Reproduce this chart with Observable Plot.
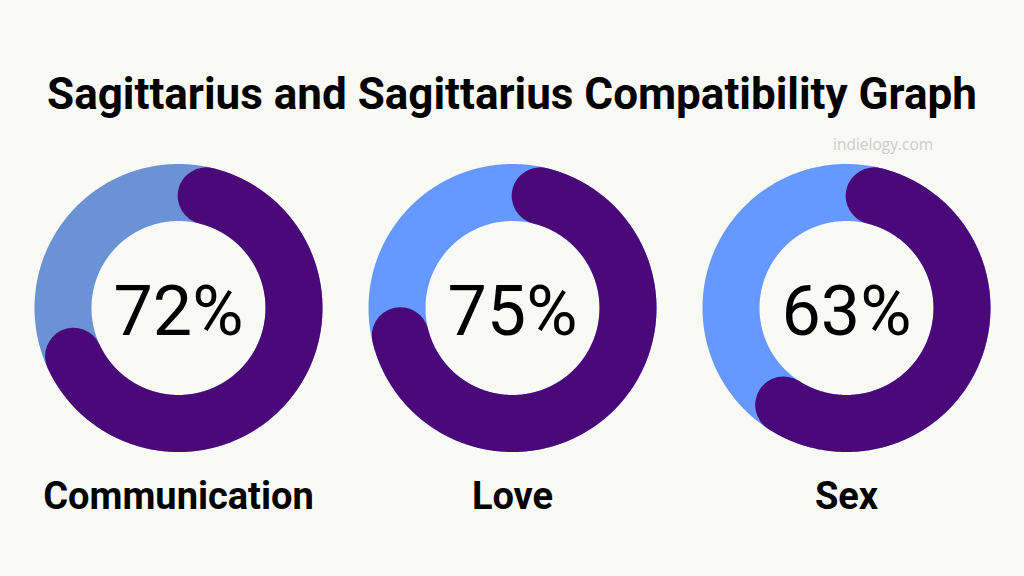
<!DOCTYPE html>
<html>
<head>
<meta charset="utf-8">
<script src="https://cdn.jsdelivr.net/npm/d3@7"></script>
<script src="https://cdn.jsdelivr.net/npm/@observablehq/plot@0.6"></script>
<style>
  html, body { margin: 0; padding: 0; background: #f9f9f5; }
  #wrap { position: relative; width: 1024px; height: 576px; overflow: hidden; background: #f9f9f5; }
  #head { position: relative; width: 1024px; height: 130px; }
  #title { position: absolute; left: 0; width: 1024px; top: 69px; text-align: center;
           font-family: Roboto, "Liberation Sans", sans-serif; font-weight: 700; font-size: 44px;
           line-height: 50px; color: #000; white-space: nowrap; }
  #source { position: absolute; left: 833px; top: 133px; font-family: "Open Sans", Roboto, sans-serif;
            font-size: 15.5px; color: #cfcdcc; white-space: nowrap; }
  #chart svg { display: block; }
</style>
</head>
<body>
<div id="wrap">
  <div id="head"><div id="title">Sagittarius and Sagittarius Compatibility Graph</div></div>
  <div id="source">indielogy.com</div>
  <div id="chart"></div>
</div>
<script>
// ---- data ----
const categories = ["Communication", "Love", "Sex"];
const percents = [72, 75, 63];
const trackColors = ["#6a92d4", "#6699ff", "#6699ff"];
const arcColor = "#4a0878";

// ---- ring geometry (in data units of the x/y scales) ----
const ringR = 0.77;          // mid radius of the ring
const ringW = 57;            // ring thickness in px
const pxPerUnit = 150;
const capDeg = Math.atan((ringW / 2) / (ringR * pxPerUnit)) * 180 / Math.PI;

function arcPoints(category, fromDeg, toDeg) {
  const pts = [];
  const n = Math.max(2, Math.ceil(Math.abs(toDeg - fromDeg) / 0.5));
  for (let i = 0; i <= n; i++) {
    const a = (fromDeg + (toDeg - fromDeg) * i / n) * Math.PI / 180;
    pts.push({category, x: ringR * Math.sin(a), y: ringR * Math.cos(a)});
  }
  return pts;
}

const rows = categories.map((c, i) => ({category: c, value: percents[i]}));
const track = rows.flatMap(d => arcPoints(d.category, -3, 363));
const arcs = rows.flatMap(d => arcPoints(d.category, capDeg, d.value * 3.6 - capDeg));

const step = 334, c0 = 177.7;
const chart = Plot.plot({
  width: 1024,
  height: 446,
  marginTop: 0,
  marginLeft: 0,
  marginRight: 0,
  marginBottom: 100,
  style: {background: "#f9f9f5", fontFamily: "Roboto, 'Liberation Sans', sans-serif", fontSize: "38px", fontWeight: "700", color: "#000"},
  fx: {domain: categories, range: [c0 - step / 2, c0 - step / 2 + 3 * step], padding: 0,
       axis: "bottom", label: null, tickSize: 0, tickPadding: 6},
  x: {domain: [-1, 1], range: [step / 2 - pxPerUnit, step / 2 + pxPerUnit], axis: null},
  y: {domain: [-1, 1], range: [177.5 + pxPerUnit, 177.5 - pxPerUnit], axis: null},
  color: {domain: categories, range: trackColors},
  marks: [
    Plot.line(track, {fx: "category", x: "x", y: "y", z: "category", stroke: "category",
                      strokeWidth: ringW, strokeLinecap: "butt", strokeLinejoin: "round"}),
    Plot.line(arcs, {fx: "category", x: "x", y: "y", z: "category", stroke: arcColor,
                     strokeWidth: ringW, strokeLinecap: "round", strokeLinejoin: "round"}),
    Plot.text(rows, {fx: "category", x: () => 0, y: () => 0, text: d => `${d.value}%`,
                     fontSize: 70, fontWeight: 400, fill: "#000", dy: 5,
                     fontFamily: "Roboto, 'Liberation Sans', sans-serif"})
  ]
});
document.getElementById("chart").appendChild(chart);
</script>
</body>
</html>
